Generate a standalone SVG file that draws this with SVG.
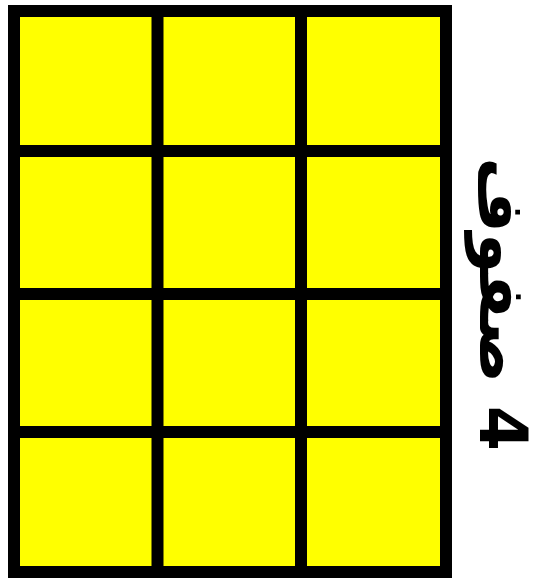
<svg xmlns="http://www.w3.org/2000/svg" width="547" height="580" viewBox="0 0 547 580">
<style>
.ln{stroke:#000;stroke-width:12;fill:none}
.cell{fill:#ffff00;stroke:#000;stroke-width:12}
.lbl{font-family:"DejaVu Sans",sans-serif;font-weight:bold;font-size:65px;fill:#000}
</style>
<rect width="547" height="580" fill="#fff"/>
<g id="grid">
<rect x="14" y="11" width="432" height="561" class="cell"/>
<line class="ln" x1="157.5" y1="11" x2="157.5" y2="572"/>
<line class="ln" x1="301" y1="11" x2="301" y2="572"/>
<line class="ln" x1="14" y1="151" x2="446" y2="151"/>
<line class="ln" x1="14" y1="294" x2="446" y2="294"/>
<line class="ln" x1="14" y1="432" x2="446" y2="432"/>
</g>
<g id="label">
<text class="lbl" transform="translate(480,304) rotate(90)" text-anchor="middle" direction="rtl">4 صفوف</text>
</g>
</svg>
